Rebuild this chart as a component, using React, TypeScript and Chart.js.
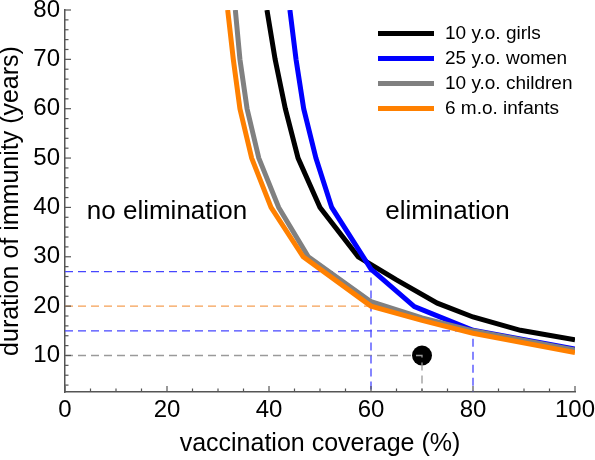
import React, { useEffect, useRef } from "react";
import { Chart, registerables } from "chart.js";

Chart.register(...registerables);

const FONT = '"Liberation Sans", Arial, Helvetica, sans-serif';

// ---- data ----
const seriesLabels = ["10 y.o. girls", "25 y.o. women", "10 y.o. children", "6 m.o. infants"];
const seriesColors = ["#000000", "#0000ff", "#808080", "#ff8000"];

const girlsCoverage = [39.6, 41.2, 43.2, 45.7, 50, 57.5, 65, 73, 80, 89.3, 100];
const girlsDuration = [80, 70, 60, 50, 40, 30, 25.3, 20.6, 17.8, 15.1, 13.2];

const womenCoverage = [44.1, 45.3, 46.8, 49.2, 52.3, 60, 68.5, 80, 100];
const womenDuration = [80, 70, 60, 50, 40, 27.5, 19.9, 15.1, 11.3];

const childrenCoverage = [33.4, 34.3, 35.7, 38, 41.9, 47.7, 60, 70, 80, 100];
const childrenDuration = [80, 70, 60, 50, 40, 30, 20.9, 17.6, 15.0, 11.1];

const infantsCoverage = [31.9, 33, 34.3, 36.6, 40.4, 46.7, 60, 70, 80, 100];
const infantsDuration = [80, 70, 60, 50, 40, 30, 20, 17.1, 14.5, 10.6];

// reference (dashed) lines: coverage, duration
const refCoverage = [60, 60, 80, 70];
const refDuration = [27, 20, 15, 10];
const refColors = ["#4646ff", "#f5a055", "#4646ff", "#9a9a9a"];
const refDropToAxis = [true, false, true, true];

const markerCoverage = [70];
const markerDuration = [10];

const xTickValues = [0, 20, 40, 60, 80, 100];
const yTickValues = [10, 20, 30, 40, 50, 60, 70, 80];
const X_MIN = 0;
const X_MAX = 100;
const Y_MIN = 2.6;
const Y_MAX = 80;

const regionLabels = ["no elimination", "elimination"];
const regionCoverage = [20, 75];
const regionDuration = [39.2, 39.2];

const toPoints = (xs: number[], ys: number[]) => xs.map((x, i) => ({ x, y: ys[i] }));

const overlayPlugin = {
  id: "overlay",
  afterDatasetsDraw(chart: any) {
    const { ctx, chartArea, scales } = chart;
    const xs = scales.x;
    const ys = scales.y;
    ctx.save();
    // inward ticks
    ctx.strokeStyle = "#555";
    ctx.lineWidth = 1.2;
    for (let v = 4; v <= Y_MAX; v += 2) {
      const p = ys.getPixelForValue(v);
      const len = v % 10 === 0 ? 6 : 3.5;
      ctx.beginPath();
      ctx.moveTo(chartArea.left, p);
      ctx.lineTo(chartArea.left + len, p);
      ctx.stroke();
    }
    for (let v = X_MIN; v <= X_MAX; v += 5) {
      const p = xs.getPixelForValue(v);
      const len = v % 20 === 0 ? 6 : 3.5;
      ctx.beginPath();
      ctx.moveTo(p, chartArea.bottom);
      ctx.lineTo(p, chartArea.bottom - len);
      ctx.stroke();
    }
    // region labels
    ctx.fillStyle = "#000";
    ctx.font = `26px ${FONT}`;
    ctx.textAlign = "center";
    ctx.textBaseline = "middle";
    regionLabels.forEach((t, i) => {
      ctx.fillText(t, xs.getPixelForValue(regionCoverage[i]), ys.getPixelForValue(regionDuration[i]));
    });
    // legend
    ctx.font = `19px ${FONT}`;
    ctx.textAlign = "left";
    seriesLabels.forEach((t, i) => {
      const y = 33.5 + i * 25;
      ctx.strokeStyle = seriesColors[i];
      ctx.lineWidth = 5;
      ctx.beginPath();
      ctx.moveTo(378, y);
      ctx.lineTo(434, y);
      ctx.stroke();
      ctx.fillStyle = "#000";
      ctx.fillText(t, 445, y + 0.5);
    });
    ctx.restore();
  },
};

export default function App() {
  const ref = useRef<HTMLCanvasElement | null>(null);

  useEffect(() => {
    if (!ref.current) return;
    const curveX = [girlsCoverage, womenCoverage, childrenCoverage, infantsCoverage];
    const curveY = [girlsDuration, womenDuration, childrenDuration, infantsDuration];

    const curves = seriesLabels.map((label, i) => ({
      type: "line",
      label,
      data: toPoints(curveX[i], curveY[i]),
      borderColor: seriesColors[i],
      backgroundColor: seriesColors[i],
      borderWidth: 5,
      pointRadius: 0,
      tension: 0,
      fill: false,
      order: 4 - i,
    }));

    const refs = refCoverage.map((cx, i) => {
      const pts = [
        { x: X_MIN, y: refDuration[i] },
        { x: cx, y: refDuration[i] },
      ];
      if (refDropToAxis[i]) pts.push({ x: cx, y: Y_MIN });
      return {
        type: "line",
        label: "ref" + i,
        data: pts,
        borderColor: refColors[i],
        borderWidth: 1.3,
        borderDash: [8, 5],
        pointRadius: 0,
        tension: 0,
        fill: false,
        order: 10,
      };
    });

    const marker = {
      type: "line",
      label: "marker",
      data: toPoints(markerCoverage, markerDuration),
      showLine: false,
      pointRadius: 10,
      pointBackgroundColor: "#000",
      pointBorderWidth: 0,
      borderColor: "#000",
      order: 20,
    };

    const chart = new Chart(ref.current, {
      type: "line",
      data: { datasets: [...curves, ...refs, marker] as any },
      options: {
        responsive: false,
        animation: false,
        devicePixelRatio: 1,
        parsing: false as any,
        layout: { padding: { top: 10, right: 20, left: 0, bottom: 0 } },
        plugins: { legend: { display: false }, tooltip: { enabled: false } },
        scales: {
          x: {
            type: "linear",
            min: X_MIN,
            max: X_MAX,
            grid: { display: false, drawTicks: false },
            border: { display: true, color: "#555", width: 1.5 },
            afterBuildTicks: (s: any) => {
              s.ticks = xTickValues.map((value) => ({ value }));
            },
            ticks: {
              color: "#000",
              font: { family: FONT, size: 24 },
              padding: 4,
              maxRotation: 0,
              autoSkip: false,
            },
            title: {
              display: true,
              text: "vaccination coverage (%)",
              color: "#000",
              font: { family: FONT, size: 25 },
              padding: { top: 0, bottom: 1 },
            },
            afterFit: (s: any) => {
              s.height = 68;
              s.paddingLeft = 0;
              s.paddingRight = 0;
            },
          },
          y: {
            type: "linear",
            min: Y_MIN,
            max: Y_MAX,
            grid: { display: false, drawTicks: false },
            border: { display: true, color: "#555", width: 1.5 },
            afterBuildTicks: (s: any) => {
              s.ticks = yTickValues.map((value) => ({ value }));
            },
            ticks: {
              color: "#000",
              font: { family: FONT, size: 24 },
              padding: 5,
              autoSkip: false,
            },
            title: {
              display: true,
              text: "duration of immunity (years)",
              color: "#000",
              font: { family: FONT, size: 25, lineHeight: 0.9 },
              padding: { top: 0, bottom: 0 },
            },
            afterFit: (s: any) => {
              s.width = 65;
              s.paddingTop = 0;
              s.paddingBottom = 0;
            },
          },
        },
      } as any,
      plugins: [overlayPlugin],
    });
    return () => chart.destroy();
  }, []);

  return (
    <div style={{ position: "fixed", left: 0, top: 0, width: 595, height: 460, background: "#fff" }}>
      <canvas ref={ref} width={595} height={460} style={{ width: 595, height: 460, display: "block" }} />
    </div>
  );
}
